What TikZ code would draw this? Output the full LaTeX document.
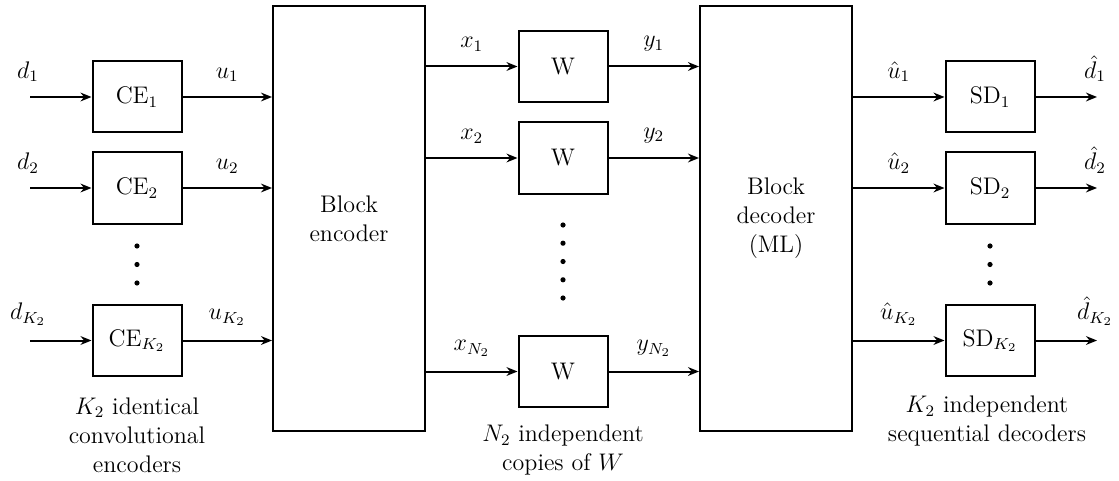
\documentclass[12pt,tikz,border=0pt]{standalone}
\usetikzlibrary{arrows.meta}
\begin{document}
\begin{tikzpicture}[x=0.5pt,y=-0.5pt,
  blk/.style={draw, line width=1pt, minimum width=44.5pt, minimum height=35.5pt, inner sep=0pt},
  big/.style={draw, line width=1pt, minimum width=76pt, minimum height=212.5pt, align=center, inner sep=0pt},
  arr/.style={line width=1pt, -{Stealth[length=5.5pt,width=4.4pt,inset=1.8pt]}},
  dot/.style={circle, fill, inner sep=0pt, minimum size=2.6pt},
  note/.style={align=center, inner sep=0pt}]
\useasboundingbox (0,0) rectangle (1119,481);
% big blocks
\node[big] (enc) at (349,218.5) {Block\\encoder};
\node[big] (dec) at (776,218.5) {Block\\decoder\\(ML)};
% convolutional encoders
\node[blk] (ce1) at (137,97) {CE$_1$};
\node[blk] (ce2) at (137,188) {CE$_2$};
\node[blk] (ce3) at (137,340.5) {CE$_{K_2}$};
% channels
\node[blk] (w1) at (563,66.5) {W};
\node[blk] (w2) at (563,158) {W};
\node[blk] (w3) at (563,371.5) {W};
% sequential decoders
\node[blk] (sd1) at (990,97) {SD$_1$};
\node[blk] (sd2) at (990,188) {SD$_2$};
\node[blk] (sd3) at (990,340.5) {SD$_{K_2}$};
% free ends
\coordinate (i1) at (30,97);
\coordinate (i2) at (30,188);
\coordinate (i3) at (30,340.5);
\coordinate (o1) at (1097,97);
\coordinate (o2) at (1097,188);
\coordinate (o3) at (1097,340.5);
% inputs
\draw[arr] (i1) node[above=3pt,xshift=-1pt] {$d_1$} -- (ce1);
\draw[arr] (i2) node[above=3pt,xshift=-1pt] {$d_2$} -- (ce2);
\draw[arr] (i3) node[above=3pt,xshift=-1pt] {$d_{K_2}$} -- (ce3);
\draw[arr] (ce1) -- node[above=3pt] {$u_1$} (ce1 -| enc.west);
\draw[arr] (ce2) -- node[above=3pt] {$u_2$} (ce2 -| enc.west);
\draw[arr] (ce3) -- node[above=3pt] {$u_{K_2}$} (ce3 -| enc.west);
\draw[arr] (enc.east |- w1) -- node[above=3pt] {$x_1$} (w1);
\draw[arr] (enc.east |- w2) -- node[above=3pt] {$x_2$} (w2);
\draw[arr] (enc.east |- w3) -- node[above=3pt] {$x_{N_2}$} (w3);
\draw[arr] (w1) -- node[above=3pt] {$y_1$} (w1 -| dec.west);
\draw[arr] (w2) -- node[above=3pt] {$y_2$} (w2 -| dec.west);
\draw[arr] (w3) -- node[above=3pt] {$y_{N_2}$} (w3 -| dec.west);
\draw[arr] (dec.east |- sd1) -- node[above=3pt] {$\hat{u}_1$} (sd1);
\draw[arr] (dec.east |- sd2) -- node[above=3pt] {$\hat{u}_2$} (sd2);
\draw[arr] (dec.east |- sd3) -- node[above=3pt] {$\hat{u}_{K_2}$} (sd3);
\draw[arr] (sd1) -- (o1) node[above=3pt,xshift=-1pt] {$\hat{d}_1$};
\draw[arr] (sd2) -- (o2) node[above=3pt,xshift=-1pt] {$\hat{d}_2$};
\draw[arr] (sd3) -- (o3) node[above=3pt,xshift=-1pt] {$\hat{d}_{K_2}$};
% dots
\foreach \y [count=\i] in {246,264.5,283} {
  \node[dot] (la\i) at (137,\y) {};
  \node[dot] (ra\i) at (990,\y) {};
}
\foreach \y [count=\i] in {225,243.2,261.5,279.8,298} {
  \node[dot] (ma\i) at (563,\y) {};
}
% notes
\node[note] (n1) at (137,435) {$K_2$ identical\\convolutional\\encoders};
\node[note] (n2) at (563,450) {$N_2$ independent\\copies of $W$};
\node[note] (n3) at (987,421) {$K_2$ independent\\sequential decoders};
\end{tikzpicture}
\end{document}
